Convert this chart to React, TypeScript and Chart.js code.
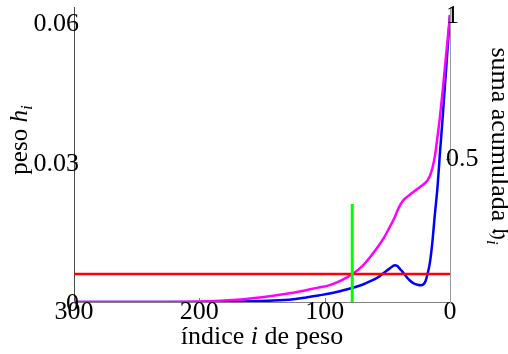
import { useEffect, useRef } from "react";
import { Chart, registerables } from "chart.js";

Chart.register(...registerables);

// weight index i (the axis runs from 300 down to 0)
const indices = [
  300, 250, 200, 170, 141, 125, 114, 105, 96, 88, 78, 70, 64, 58, 53, 48, 44,
  42, 40, 38, 36, 32, 29, 26, 23, 20, 18, 16, 14, 12, 10, 8, 6, 4, 2, 0,
];

// weights h_i (left axis)
const weights = [
  0, 0, 0.00002, 0.0001, 0.0003, 0.0006, 0.001, 0.0014, 0.0018, 0.0023, 0.003,
  0.0037, 0.0044, 0.0052, 0.0062, 0.0072, 0.0079, 0.0077, 0.0071, 0.0065,
  0.0058, 0.0046, 0.004, 0.0037, 0.0036, 0.0042, 0.0059, 0.0085, 0.013, 0.019,
  0.0245, 0.032, 0.039, 0.0465, 0.054, 0.0615,
];

// cumulative sum (right axis)
const cumulativeSum = [
  0, 0.0003, 0.002, 0.008, 0.022, 0.032, 0.042, 0.05, 0.059, 0.073, 0.0965,
  0.125, 0.155, 0.19, 0.222, 0.262, 0.296, 0.318, 0.336, 0.35, 0.36, 0.374,
  0.384, 0.394, 0.404, 0.414, 0.424, 0.44, 0.468, 0.51, 0.575, 0.646, 0.73,
  0.82, 0.91, 1.0,
];

const thresholdWeight = 0.006;
const cutoffIndex = 78;
const cutoffMarkerTop = 0.021;

const xTickValues = [300, 200, 100, 0];
const weightTickValues = [0, 0.03, 0.06];
const weightTickLabels = ["0", "0.03", "0.06"];
const sumTickValues = [0.5, 1];
const sumTickLabels = ["0.5", "1"];
const weightAxisMax = 0.0632;
const sumAxisMax = 1.028;

const SERIF = '"Liberation Serif", "DejaVu Serif", "DejaVu Sans", serif';
const TICK_FONT = `26px ${SERIF}`;

type Run = { text: string; italic?: boolean; size: number; shift?: number };

function drawRuns(
  ctx: CanvasRenderingContext2D,
  runs: Run[],
  cx: number,
  cy: number,
  angle: number
) {
  const fontOf = (r: Run) => `${r.italic ? "italic " : ""}${r.size}px ${SERIF}`;
  ctx.save();
  ctx.translate(cx, cy);
  ctx.rotate(angle);
  let total = 0;
  for (const r of runs) {
    ctx.font = fontOf(r);
    total += ctx.measureText(r.text).width;
  }
  let x = -total / 2;
  ctx.textAlign = "left";
  ctx.textBaseline = "alphabetic";
  ctx.fillStyle = "#000";
  for (const r of runs) {
    ctx.font = fontOf(r);
    ctx.fillText(r.text, x, r.shift ?? 0);
    x += ctx.measureText(r.text).width;
  }
  ctx.restore();
}

// y tick labels that straddle the axis lines, axis titles with italic /
// subscript parts, and small inward tick marks
const axisDecor = {
  id: "axisDecor",
  afterDraw(chart: any) {
    const ctx: CanvasRenderingContext2D = chart.ctx;
    const { left, right, bottom } = chart.chartArea;
    const xs = chart.scales.x;
    const yl = chart.scales.y;
    const yr = chart.scales.y2;

    ctx.save();
    ctx.strokeStyle = "#808080";
    ctx.lineWidth = 1;
    ctx.beginPath();
    for (const v of [200, 100]) {
      const px = Math.round(xs.getPixelForValue(v)) + 0.5;
      ctx.moveTo(px, bottom);
      ctx.lineTo(px, bottom - 4);
    }
    const py = Math.round(yl.getPixelForValue(0.03)) + 0.5;
    ctx.moveTo(left, py);
    ctx.lineTo(left + 4, py);
    const pr = Math.round(yr.getPixelForValue(0.5)) + 0.5;
    ctx.moveTo(right, pr);
    ctx.lineTo(right - 4, pr);
    ctx.stroke();

    ctx.fillStyle = "#000";
    ctx.font = TICK_FONT;
    ctx.textBaseline = "middle";
    ctx.textAlign = "right";
    weightTickValues.forEach((v, k) => {
      ctx.fillText(weightTickLabels[k], left + 5, yl.getPixelForValue(v) + 2);
    });
    ctx.textAlign = "left";
    sumTickValues.forEach((v, k) => {
      ctx.fillText(sumTickLabels[k], right - 4, yr.getPixelForValue(v) + 1);
    });
    ctx.restore();

    drawRuns(
      ctx,
      [
        { text: "índice ", size: 26 },
        { text: "i", italic: true, size: 26 },
        { text: " de peso", size: 26 },
      ],
      (left + right) / 2,
      344,
      0
    );
    drawRuns(
      ctx,
      [
        { text: "peso ", size: 25 },
        { text: "h", italic: true, size: 25 },
        { text: "i", italic: true, size: 17, shift: 5 },
      ],
      27,
      140,
      -Math.PI / 2
    );
    drawRuns(
      ctx,
      [
        { text: "suma acumulada ", size: 26 },
        { text: "𝔥", size: 26 },
        { text: "i", italic: true, size: 17, shift: 5 },
      ],
      492,
      146,
      Math.PI / 2
    );
  },
};

export default function App() {
  const canvasRef = useRef<HTMLCanvasElement | null>(null);

  useEffect(() => {
    const canvas = canvasRef.current;
    if (!canvas) return;

    const weightPoints = indices.map((x, k) => ({ x, y: weights[k] }));
    const sumPoints = indices.map((x, k) => ({ x, y: cumulativeSum[k] }));

    const chart = new Chart(canvas, {
      type: "line",
      data: {
        datasets: [
          {
            label: "corte",
            data: [
              { x: cutoffIndex, y: 0 },
              { x: cutoffIndex, y: cutoffMarkerTop },
            ],
            borderColor: "#00ff00",
            borderWidth: 3,
            pointRadius: 0,
            yAxisID: "y",
          },
          {
            label: "umbral",
            data: [
              { x: 300, y: thresholdWeight },
              { x: 0, y: thresholdWeight },
            ],
            borderColor: "#ff0000",
            borderWidth: 2.5,
            pointRadius: 0,
            yAxisID: "y",
          },
          {
            label: "suma acumulada",
            data: sumPoints,
            borderColor: "#ff00ff",
            borderWidth: 2.5,
            pointRadius: 0,
            cubicInterpolationMode: "monotone",
            yAxisID: "y2",
          },
          {
            label: "peso",
            data: weightPoints,
            borderColor: "#0000ff",
            borderWidth: 2.5,
            pointRadius: 0,
            cubicInterpolationMode: "monotone",
            yAxisID: "y",
          },
        ],
      },
      options: {
        animation: false,
        responsive: false,
        events: [],
        layout: { padding: { top: 7, left: 0, right: 0, bottom: 0 } },
        plugins: {
          legend: { display: false },
          tooltip: { enabled: false },
        },
        scales: {
          x: {
            type: "linear",
            position: "bottom",
            reverse: true,
            min: 0,
            max: 300,
            grid: { display: false, drawTicks: false },
            border: { display: true, color: "#808080", width: 1 },
            afterBuildTicks: (s: any) => {
              s.ticks = xTickValues.map((value) => ({ value }));
            },
            ticks: {
              font: { family: SERIF, size: 26 },
              color: "#000",
              padding: -5,
              maxRotation: 0,
              autoSkip: false,
              callback: (v: any) => String(v),
            },
            afterFit: (s: any) => {
              s.height = 52;
              s.paddingLeft = 0;
              s.paddingRight = 0;
            },
          },
          y: {
            type: "linear",
            position: "left",
            min: 0,
            max: weightAxisMax,
            grid: { display: false, drawTicks: false },
            border: { display: true, color: "#4a4a4a", width: 1 },
            afterBuildTicks: (s: any) => {
              s.ticks = weightTickValues.map((value) => ({ value }));
            },
            ticks: { display: false },
            afterFit: (s: any) => {
              s.width = 74;
              s.paddingTop = 0;
              s.paddingBottom = 0;
            },
          },
          y2: {
            type: "linear",
            position: "right",
            min: 0,
            max: sumAxisMax,
            grid: { display: false, drawTicks: false },
            border: { display: true, color: "#9a9a9a", width: 1 },
            afterBuildTicks: (s: any) => {
              s.ticks = sumTickValues.map((value) => ({ value }));
            },
            ticks: { display: false },
            afterFit: (s: any) => {
              s.width = 58;
              s.paddingTop = 0;
              s.paddingBottom = 0;
            },
          },
        },
      },
      plugins: [axisDecor],
    } as any);

    return () => chart.destroy();
  }, []);

  return (
    <div
      style={{
        position: "absolute",
        left: 0,
        top: 0,
        width: 508,
        height: 354,
        background: "#fff",
      }}
    >
      <canvas ref={canvasRef} width={508} height={354} />
    </div>
  );
}
